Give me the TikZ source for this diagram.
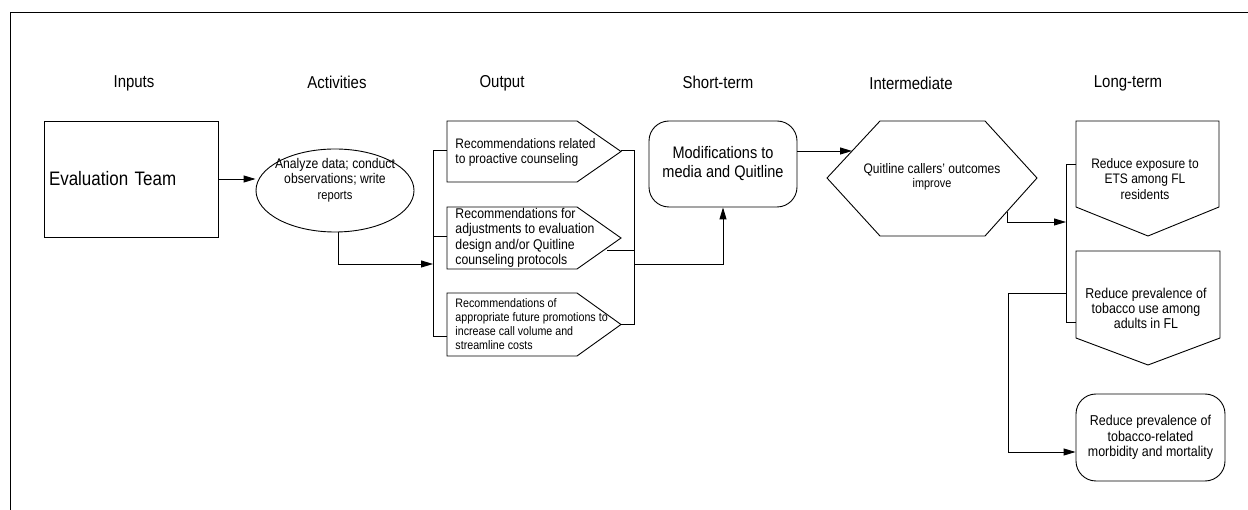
\documentclass[tikz,border=0pt]{standalone}
\usepackage{fontspec}
\setmainfont{Liberation Sans}[FakeStretch=0.87]
\usepackage{tikz}
\usetikzlibrary{arrows.meta}
\usetikzlibrary{shapes.geometric}
\usetikzlibrary{calc}

\newcommand{\fsz}[2]{\fontsize{#1}{#2}\selectfont}

\begin{document}
\begin{tikzpicture}[x=1pt, y=-1pt, line width=0.9pt,
	heading/.style={font=\fsz{17.2}{20}},
	flow/.style={-{Triangle[length=12pt,width=7pt]}},
	txt/.style={inner sep=0pt, align=center},
	roundbox/.style={draw, rounded corners=20pt, align=center}]
	\useasboundingbox (0,0) rectangle (1248,510);
	% page frame
	\draw (10,510) -- (10,12) -- (1248,12);

	% column headings
	\node[heading] (hinputs) at (134,83) {Inputs};
	\node[heading] (hactiv) at (337,82) {Activities};
	\node[heading] (houtput) at (502,83) {Output};
	\node[heading] (hshort) at (718,82) {Short-term};
	\node[heading] (hinter) at (911,83) {Intermediate};
	\node[heading] (hlong) at (1128,83) {Long-term};

	% inputs and activities
	\node[draw, minimum width=174, minimum height=116, text width=164, inner xsep=5pt,
		align=left, font=\fsz{19.5}{22}] (evalteam) at (131,179) {Evaluation Team};
	\node[draw, ellipse, minimum width=158, minimum height=83] (analyze) at (335,190.5) {};
	\node[txt, font=\fsz{14}{15.5}] (analyzetext) at (335,180)
		{Analyze data; conduct\\ observations; write\\ {\fsz{12.8}{15}reports}};

	% outputs
	\foreach \t/\b in {121/182, 207/269, 293/356}
		\draw (447,\t) -- (577,\t) -- (621,{(\t+\b)/2}) -- (577,\b) -- (447,\b) -- cycle;
	\node[txt, anchor=west, align=left, font=\fsz{13.8}{15}] (rec1) at (455,152)
		{Recommendations related\\ to proactive counseling};
	\node[txt, anchor=west, align=left, font=\fsz{14.1}{15.3}] (rec2) at (455,238)
		{Recommendations for\\ adjustments to evaluation\\ design and/or Quitline\\ counseling protocols};
	\node[txt, anchor=west, align=left, font=\fsz{12.3}{13.8}] (rec3) at (455,324)
		{Recommendations of\\ appropriate future promotions to\\ increase call volume and\\ streamline costs};
	\coordinate (o1w) at (447,150);
	\coordinate (o2w) at (447,236);
	\coordinate (o3w) at (447,336);
	\coordinate (o1e) at (621,150);
	\coordinate (o2e) at (607,250);
	\coordinate (o3e) at (621,324);
	\coordinate (inbar) at (433,264);
	\coordinate (outbar) at (634,264);

	% short-term
	\node[roundbox, minimum width=148, minimum height=86, font=\fsz{16.7}{19}] (modif) at (723,164)
		{Modifications to\\ media and Quitline};

	% intermediate
	\draw (827,178) -- (880,121) -- (985,121) -- (1037,178) -- (985,236) -- (880,236) -- cycle;
	\node[txt, font=\fsz{13.8}{13.5}] (callers) at (932,177)
		{Quitline callers' outcomes\\ {\fsz{12.5}{13.5}improve}};
	\coordinate (callin) at (852,151);
	\coordinate (callout) at (1007,212);
	\coordinate (ltbar) at (1066,222);

	% long-term
	\draw (1076,121) -- (1219,121) -- (1219,207) -- (1148,236) -- (1076,207) -- cycle;
	\draw (1076,251) -- (1220,251) -- (1220,338) -- (1148,365) -- (1076,338) -- cycle;
	\node[txt, font=\fsz{13.8}{15.5}] (ets) at (1145,179)
		{Reduce exposure to\\ ETS among FL\\ residents};
	\node[txt, font=\fsz{14.3}{15}] (prevuse) at (1146,308)
		{Reduce prevalence of\\ tobacco use among\\ adults in FL};
	\node[roundbox, minimum width=149, minimum height=87, font=\fsz{14.3}{15.5}] (morb) at (1150.5,437.5)
		{Reduce prevalence of\\ tobacco-related\\ morbidity and mortality};
	\coordinate (etsw) at (1076,164);
	\coordinate (prevw) at (1076,322);
	\coordinate (fork) at (1066,293);

	% connectors
	\draw[flow] (evalteam.east) -- (evalteam.east -| analyze.west);
	\draw[flow] ([xshift=3pt]analyze.south) |- (inbar);
	\draw (o1w) -- ++(-14,0) |- (o3w);
	\draw (o2w) -- ++(-14,0);
	\draw (o1e) -- ++(13,0) |- (o3e);
	\draw (o2e) -- (o2e -| outbar);
	\draw[flow] (outbar) -| (modif.south);
	\draw[flow] ([yshift=13pt]modif.east) -- (callin);
	\draw[flow] (callout) |- (ltbar);
	\draw (etsw) -- ++(-10,0) |- (prevw);
	\draw[flow] (fork) -- ++(-58,0) |- ([yshift=-14.5pt]morb.west);
\end{tikzpicture}
\end{document}
